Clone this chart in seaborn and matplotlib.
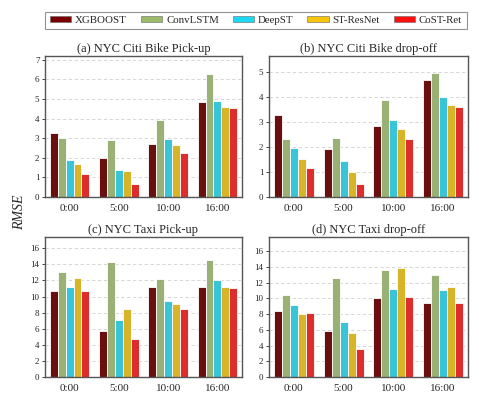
import pandas as pd
import numpy as np
import matplotlib.pyplot as plt
import seaborn as sns

# 데이터
models = ["XGBOOST", "ConvLSTM", "DeepST", "ST-ResNet", "CoST-Ret"]
hours = ["0:00", "5:00", "10:00", "16:00"]
colors = ["#780000", "#9BBB6B", "#1ED8F2", "#F5C50C", "#FA1010"]

bike_pick = [[3.26, 1.97, 2.73, 4.86],
             [3.00, 2.92, 3.94, 6.26],
             [1.90, 1.39, 2.97, 4.91],
             [1.70, 1.32, 2.63, 4.58],
             [1.17, 0.66, 2.24, 4.53]]
bike_drop = [[3.29, 1.91, 2.84, 4.68],
             [2.33, 2.36, 3.88, 4.95],
             [1.95, 1.44, 3.08, 4.00],
             [1.53, 1.01, 2.71, 3.69],
             [1.16, 0.53, 2.32, 3.60]]
taxi_pick = [[10.7, 5.7, 11.2, 11.2],
             [13.1, 14.3, 12.2, 14.5],
             [11.2, 7.1, 9.4, 12.1],
             [12.3, 8.5, 9.1, 11.2],
             [10.7, 4.7, 8.5, 11.0]]
taxi_drop = [[8.4, 5.9, 10.0, 9.4],
             [10.4, 12.6, 13.55, 12.95],
             [9.15, 7.0, 11.2, 11.0],
             [8.06, 5.65, 13.85, 11.5],
             [8.2, 3.55, 10.2, 9.4]]

titles = ["(a) NYC Citi Bike Pick-up", "(b) NYC Citi Bike drop-off",
          "(c) NYC Taxi Pick-up", "(d) NYC Taxi drop-off"]
panels = [bike_pick, bike_drop, taxi_pick, taxi_drop]
ylims = [(0, 7.2, [0, 1, 2, 3, 4, 5, 6, 7]), (0, 5.65, [0, 1, 2, 3, 4, 5]),
         (0, 17.4, list(range(0, 17, 2))), (0, 17.8, list(range(0, 17, 2)))]


def to_long(vals):
    rows = []
    for m, series in zip(models, vals):
        for h, v in zip(hours, series):
            rows.append({"hour": h, "model": m, "rmse": v})
    return pd.DataFrame(rows)


sns.set_style("white")
plt.rcParams['font.family'] = ['Liberation Serif', 'DejaVu Serif']

fig = plt.figure(figsize=(4.79, 3.98), dpi=100)
W, H = 479, 398
boxes = [(45, 56, 242, 197), (269, 56, 468, 197),
         (45, 237, 242, 377), (269, 237, 468, 377)]

for i, (x0, y0, x1, y1) in enumerate(boxes):
    ax = fig.add_axes([x0 / W, 1 - y1 / H, (x1 - x0) / W, (y1 - y0) / H])
    df = to_long(panels[i])
    sns.barplot(data=df, x="hour", y="rmse", hue="model", palette=colors,
                hue_order=models, order=hours, ax=ax, width=0.8,
                edgecolor="white", linewidth=0.6, legend=False)
    lo, hi, ticks = ylims[i]
    ax.set_ylim(lo, hi)
    ax.set_yticks(ticks)
    ax.set_xlim(-0.5, 3.5)
    ax.yaxis.grid(True, linestyle=(0, (4, 3)), color="#d0d0d0", linewidth=0.6)
    ax.set_axisbelow(True)
    ax.set_xlabel("")
    ax.set_ylabel("")
    ax.set_title(titles[i], fontsize=9, pad=3)
    ax.tick_params(axis="y", labelsize=6.5, length=2, width=0.6, pad=2, left=True)
    ax.tick_params(axis="x", labelsize=8, length=0, pad=5)
    for s in ax.spines.values():
        s.set_color("#555555")
        s.set_linewidth(1.0)

fig.text(20 / W, 1 - 212 / H, "RMSE", rotation=90, fontsize=10, style="italic",
         ha="center", va="center")

handles = [plt.Rectangle((0, 0), 1, 1, facecolor=c, edgecolor="#666666", linewidth=0.4)
           for c in colors]
leg = fig.legend(handles, models, loc="center", bbox_to_anchor=(256 / W, 1 - 20.5 / H),
                 ncol=5, fontsize=7.8, frameon=True, fancybox=False,
                 handlelength=2.0, handleheight=0.55, handletextpad=0.35,
                 columnspacing=1.25, borderpad=0.4)
leg.get_frame().set_edgecolor("#777777")
leg.get_frame().set_linewidth(0.8)

fig.savefig("out.png", dpi=100)
